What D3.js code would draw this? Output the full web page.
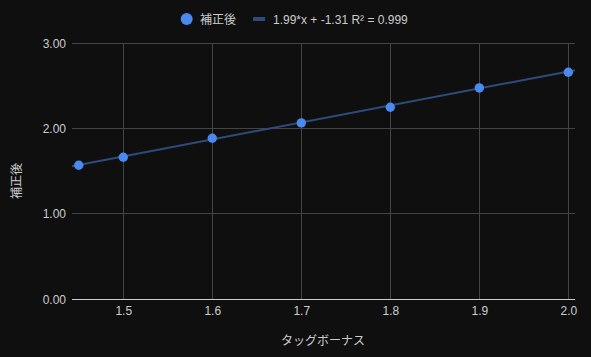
<!DOCTYPE html>
<html><head><meta charset="utf-8">
<script src="https://cdn.jsdelivr.net/npm/d3@7"></script>
<style>html,body{margin:0;padding:0;background:#0f0f0f;}svg{display:block;}</style>
</head><body>
<svg id="chart" width="591" height="357"></svg>
<script>
const xValues = [1.45, 1.5, 1.6, 1.7, 1.8, 1.9, 2.0];
const yValues = [1.571, 1.665, 1.887, 2.067, 2.251, 2.477, 2.661];
const xTicks = [1.5, 1.6, 1.7, 1.8, 1.9, 2.0];
const yTicks = [0, 1, 2, 3];
const seriesName = "補正後";
const trendSlope = 1.99, trendIntercept = -1.31;
const trendLabel = "1.99*x + -1.31 R² = 0.999";
const xTitle = "タッグボーナス";
const yTitle = "補正後";

(function () {
const W = 591, H = 357;
const font = "'Liberation Sans', Arial, 'Noto Sans CJK JP', sans-serif";
const pL = 72, pR = 575, pT = 43.3, pB = 299.3;
const svg = d3.select("#chart").style("font-family", font);
svg.append("rect").attr("width", W).attr("height", H).attr("fill", "#0f0f0f");

const x = d3.scaleLinear().domain([1.4424, 2.0075]).range([pL, pR]);
const y = d3.scaleLinear().domain([0, 3]).range([pB, pT]);

// grid
const g = svg.append("g");
g.selectAll(".hg").data(yTicks.filter(d => d !== 0)).enter().append("line")
  .attr("x1", pL).attr("x2", pR).attr("y1", d => y(d)).attr("y2", d => y(d))
  .attr("stroke", "#444").attr("stroke-width", 1).attr("shape-rendering", "crispEdges");
g.selectAll(".vg").data(xTicks).enter().append("line")
  .attr("x1", d => x(d)).attr("x2", d => x(d)).attr("y1", pT).attr("y2", pB)
  .attr("stroke", "#444").attr("stroke-width", 1).attr("shape-rendering", "crispEdges");
g.append("line").attr("x1", pL).attr("x2", pR).attr("y1", y(0)).attr("y2", y(0))
  .attr("stroke", "#cccccc").attr("stroke-width", 1).attr("shape-rendering", "crispEdges");

// axes labels using d3 axes
const yAxis = svg.append("g").attr("transform", `translate(${pL - 6},0)`)
  .call(d3.axisLeft(y).tickValues(yTicks).tickFormat(d3.format(".2f")).tickSize(0).tickPadding(0));
yAxis.select(".domain").remove();
yAxis.selectAll("text").attr("fill", "#cccccc").style("font-size", "12px").style("font-family", font);

const xAxis = svg.append("g").attr("transform", `translate(0,${pB + 7})`)
  .call(d3.axisBottom(x).tickValues(xTicks).tickFormat(d3.format(".1f")).tickSize(0).tickPadding(0));
xAxis.select(".domain").remove();
xAxis.selectAll("text").attr("fill", "#cccccc").style("font-size", "12px").style("font-family", font);

// titles
svg.append("text").attr("x", 323).attr("y", 345).attr("text-anchor", "middle")
  .attr("fill", "#cccccc").style("font-size", "12px").text(xTitle);
svg.append("text").attr("transform", `translate(21,181) rotate(-90)`).attr("text-anchor", "middle")
  .attr("fill", "#cccccc").style("font-size", "12px").text(yTitle);

// trendline
svg.append("line")
  .attr("x1", x(x.domain()[0])).attr("y1", y(trendSlope * x.domain()[0] + trendIntercept))
  .attr("x2", x(x.domain()[1])).attr("y2", y(trendSlope * x.domain()[1] + trendIntercept))
  .attr("stroke", "#2d4c7c").attr("stroke-width", 2);

// points
const pts = xValues.map((v, i) => [v, yValues[i]]);
svg.append("g").selectAll("circle").data(pts).enter().append("circle")
  .attr("cx", d => x(d[0])).attr("cy", d => y(d[1])).attr("r", 4.7)
  .attr("fill", "#4a89ee");

// legend
const lg = svg.append("g");
lg.append("circle").attr("cx", 186.7).attr("cy", 19).attr("r", 6).attr("fill", "#4a89ee");
lg.append("text").attr("x", 200).attr("y", 23.5).attr("fill", "#cccccc").style("font-size", "12px").text(seriesName);
lg.append("line").attr("x1", 253).attr("x2", 265).attr("y1", 19).attr("y2", 19)
  .attr("stroke", "#2d4c7c").attr("stroke-width", 4);
lg.append("text").attr("x", 273).attr("y", 23.5).attr("fill", "#cccccc").style("font-size", "12px").text(trendLabel);
})();
</script>
</body></html>
